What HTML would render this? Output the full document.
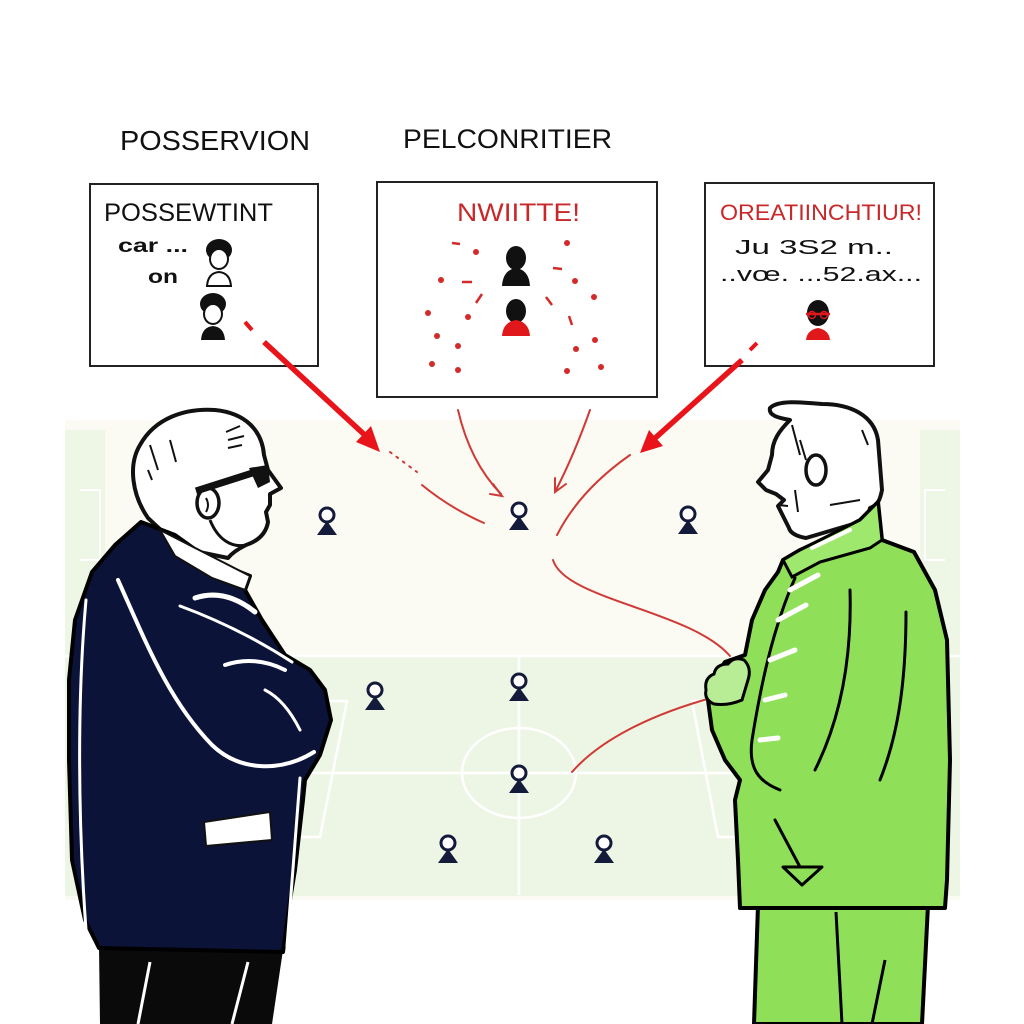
<!DOCTYPE html>
<html><head><meta charset="utf-8"><style>
html,body{margin:0;padding:0;background:#fff;}
svg{display:block;}
text{font-family:"Liberation Sans",sans-serif;}
</style></head><body>
<svg width="1024" height="1024" viewBox="0 0 1024 1024" xmlns="http://www.w3.org/2000/svg">
<rect width="1024" height="1024" fill="#ffffff"/>
<!-- field -->
<rect x="65" y="420" width="895" height="480" fill="#fbfaf3"/>
<rect x="65" y="430" width="40" height="225" fill="#eef6e6"/>
<rect x="920" y="430" width="40" height="225" fill="#eef6e6"/>
<path d="M80,490 L100,490 L100,560 L80,560" fill="none" stroke="#ffffff" stroke-width="2"/>
<path d="M945,490 L925,490 L925,560 L945,560" fill="none" stroke="#ffffff" stroke-width="2"/>
<rect x="65" y="655" width="895" height="241" fill="#edf6e4"/>
<g stroke="#ffffff" stroke-width="2.5" fill="none">
<line x1="65" y1="656" x2="960" y2="656"/>
<line x1="90" y1="773" x2="935" y2="773"/>
<line x1="519" y1="656" x2="519" y2="895"/>
<ellipse cx="519" cy="773" rx="57" ry="45"/>
<polyline points="300,701 347,701 320,837 290,837"/>
<polyline points="740,701 692,701 718,837 750,837"/>
</g>

<!-- titles -->
<text x="120" y="150" font-size="28" textLength="190" lengthAdjust="spacingAndGlyphs" fill="#111">POSSERVION</text>
<text x="403" y="148" font-size="27" textLength="209" lengthAdjust="spacingAndGlyphs" fill="#111">PELCONRITIER</text>

<!-- box 1 -->
<rect x="90" y="184" width="228" height="182" fill="#fff" stroke="#222" stroke-width="2"/>
<text x="104" y="221" font-size="25" textLength="169" lengthAdjust="spacingAndGlyphs" fill="#111">POSSEWTINT</text>
<text x="118" y="252" font-size="19" textLength="70" lengthAdjust="spacingAndGlyphs" fill="#111" font-weight="bold">car ...</text>
<text x="148" y="283" font-size="19" textLength="30" lengthAdjust="spacingAndGlyphs" fill="#111" font-weight="bold">on</text>
<g>
<path d="M207,286 Q208,273 219,272 Q230,273 231,286 Z" fill="#fff" stroke="#111" stroke-width="2"/>
<ellipse cx="219" cy="250" rx="13" ry="11" fill="#111"/>
<ellipse cx="219" cy="259" rx="9" ry="10" fill="#fff" stroke="#111" stroke-width="2"/>
<path d="M201,340 Q202,327 213,326 Q224,327 225,340 Z" fill="#111"/>
<ellipse cx="213" cy="304" rx="13" ry="11" fill="#111"/>
<ellipse cx="213" cy="314" rx="9" ry="10" fill="#fff" stroke="#111" stroke-width="2"/>
</g>

<!-- box 2 -->
<rect x="377" y="182" width="280" height="215" fill="#fff" stroke="#222" stroke-width="2"/>
<text x="457" y="221" font-size="25" textLength="123" lengthAdjust="spacingAndGlyphs" fill="#c8282a">NWIITTE!</text>
<g fill="#111">
<ellipse cx="516" cy="258" rx="10" ry="12"/>
<path d="M502,286 Q503,270 516,268 Q529,270 530,286 Z"/>
<ellipse cx="516" cy="311" rx="10" ry="12"/>
</g>
<path d="M502,336 Q503,322 516,320 Q529,322 530,336 Z" fill="#e0181c"/>
<g fill="#d42a2a">
<circle cx="476" cy="252" r="3"/><circle cx="441" cy="280" r="3"/><circle cx="428" cy="313" r="3"/>
<circle cx="468" cy="317" r="3"/><circle cx="437" cy="336" r="3"/><circle cx="458" cy="346" r="3"/>
<circle cx="432" cy="364" r="3"/><circle cx="458" cy="370" r="3"/><circle cx="567" cy="243" r="3"/>
<circle cx="575" cy="281" r="3"/><circle cx="594" cy="297" r="3"/><circle cx="595" cy="340" r="3"/>
<circle cx="576" cy="349" r="3"/><circle cx="567" cy="371" r="3"/><circle cx="601" cy="367" r="3"/>
</g>
<g stroke="#d42a2a" stroke-width="2.5" fill="none">
<line x1="452" y1="243" x2="460" y2="244"/>
<line x1="462" y1="282" x2="472" y2="282"/>
<line x1="482" y1="294" x2="476" y2="303"/>
<line x1="553" y1="268" x2="562" y2="269"/>
<line x1="546" y1="297" x2="552" y2="305"/>
<line x1="569" y1="316" x2="572" y2="325"/>
</g>

<!-- box 3 -->
<rect x="705" y="183" width="229" height="183" fill="#fff" stroke="#222" stroke-width="2"/>
<text x="720" y="220" font-size="22" textLength="202" lengthAdjust="spacingAndGlyphs" fill="#c8282a">OREATIINCHTIUR!</text>
<text x="735" y="254" font-size="20" textLength="158" lengthAdjust="spacingAndGlyphs" fill="#111">Ju 3S2 m..</text>
<text x="720" y="281" font-size="20" textLength="202" lengthAdjust="spacingAndGlyphs" fill="#111">..vœ. ...52.ax...</text>
<path d="M806,340 Q807,330 818,328 Q829,330 830,340 Z" fill="#e0181c"/>
<ellipse cx="818" cy="313" rx="11" ry="13" fill="#111"/>
<path d="M806,314 L830,314" stroke="#e0181c" stroke-width="2.5"/>
<circle cx="812" cy="315" r="3.5" fill="none" stroke="#e0181c" stroke-width="1.5"/>
<circle cx="824" cy="315" r="3.5" fill="none" stroke="#e0181c" stroke-width="1.5"/>

<!-- thick red arrows -->
<line x1="245" y1="322" x2="252" y2="330" stroke="#e8141a" stroke-width="4"/>
<line x1="264" y1="342" x2="368" y2="438" stroke="#e8141a" stroke-width="5.5"/>
<polygon points="380,452 356,442 371,426" fill="#e8141a"/>
<line x1="757" y1="343" x2="750" y2="350" stroke="#e8141a" stroke-width="4"/>
<line x1="742" y1="360" x2="653" y2="440" stroke="#e8141a" stroke-width="5.5"/>
<polygon points="640,453 649,430 663,446" fill="#e8141a"/>

<!-- thin red curves -->
<g stroke="#d03a36" stroke-width="2" fill="none" stroke-linecap="round">
<path d="M458,410 Q470,462 501,494"/>
<path d="M493,484 L502,496 L490,494"/>
<path d="M590,410 Q574,455 556,490"/>
<path d="M555,478 L555,492 L566,484"/>
<path d="M390,452 L417,472" stroke-dasharray="2,6"/>
<path d="M422,485 Q450,508 484,523"/>
<path d="M630,455 Q580,490 557,535"/>
<path d="M553,560 C565,600 690,610 730,656"/>
<path d="M711,698 C650,715 600,740 572,772"/>
</g>

<!-- players -->
<g id="pl">
</g>
<g fill="#141a3a" stroke="none">
<g transform="translate(327,515)"><polygon points="0,6 -10,20 10,20"/><circle cx="0" cy="0" r="7" fill="#fff" stroke="#141a3a" stroke-width="3"/></g>
<g transform="translate(519,510)"><polygon points="0,6 -10,20 10,20"/><circle cx="0" cy="0" r="7" fill="#fff" stroke="#141a3a" stroke-width="3"/></g>
<g transform="translate(688,514)"><polygon points="0,6 -10,20 10,20"/><circle cx="0" cy="0" r="7" fill="#fff" stroke="#141a3a" stroke-width="3"/></g>
<g transform="translate(375,690)"><polygon points="0,6 -10,20 10,20"/><circle cx="0" cy="0" r="7" fill="#fff" stroke="#141a3a" stroke-width="3"/></g>
<g transform="translate(519,681)"><polygon points="0,6 -10,20 10,20"/><circle cx="0" cy="0" r="7" fill="#fff" stroke="#141a3a" stroke-width="3"/></g>
<g transform="translate(519,773)"><polygon points="0,6 -10,20 10,20"/><circle cx="0" cy="0" r="7" fill="#fff" stroke="#141a3a" stroke-width="3"/></g>
<g transform="translate(448,843)"><polygon points="0,6 -10,20 10,20"/><circle cx="0" cy="0" r="7" fill="#fff" stroke="#141a3a" stroke-width="3"/></g>
<g transform="translate(604,843)"><polygon points="0,6 -10,20 10,20"/><circle cx="0" cy="0" r="7" fill="#fff" stroke="#141a3a" stroke-width="3"/></g>
</g>

<!-- LEFT MAN -->
<polygon points="99,946 283,950 272,1024 100,1024" fill="#0a0a0a"/>
<path d="M150,962 L138,1024 M248,962 L232,1024" stroke="#fff" stroke-width="3" fill="none"/>
<path d="M148,518 C132,495 128,465 140,445 C155,418 185,408 215,410 C245,413 262,430 264,455 L268,470 L281,488 L270,494 L270,505 L266,512 L268,522 C266,534 258,541 246,545 C238,549 232,553 228,558 L180,548 Z" fill="#fff" stroke="#111" stroke-width="4" stroke-linejoin="round"/>
<path d="M210,520 C218,540 232,548 246,545" fill="none" stroke="#111" stroke-width="3"/>
<ellipse cx="208" cy="503" rx="11" ry="15" fill="#fff" stroke="#111" stroke-width="3.5"/>
<path d="M206,498 Q210,505 206,512" stroke="#111" stroke-width="2" fill="none"/>
<path d="M196,491 L262,470" stroke="#111" stroke-width="7"/>
<path d="M249,468 L268,465 L270,482 L258,488 Z" fill="#111"/>
<g stroke="#111" stroke-width="2" fill="none">
<path d="M150,445 L158,470 M170,440 L176,462 M226,432 L240,426 M228,440 L244,436 M228,448 L242,445 M148,470 L152,480"/>
</g>
<path d="M141,522 L175,535 L210,560 L250,576 L245,590 L262,620 L285,655 L310,670 L325,690 L331,720 L320,755 L305,780 L303,800 L295,870 L290,900 L283,952 L99,948 L85,920 L72,860 L69,760 L69,680 L75,620 L92,572 L115,545 Z" fill="#0c1338" stroke="#000" stroke-width="4" stroke-linejoin="round"/>
<path d="M160,530 L250,576 L245,590 L212,578 L175,556 Z" fill="#fff" stroke="#111" stroke-width="2"/>
<g stroke="#fff" fill="none" stroke-linecap="round">
<path d="M86,600 C77,700 78,820 86,930" stroke-width="3"/>
<path d="M118,580 C145,640 168,700 212,745 C240,772 282,772 314,752" stroke-width="4"/>
<path d="M180,606 C218,620 258,640 292,662" stroke-width="3"/>
<path d="M195,598 Q225,588 255,612" stroke-width="5"/>
<path d="M225,665 Q255,655 285,670" stroke-width="4"/>
<path d="M300,778 L287,946" stroke-width="3"/>
<path d="M265,690 Q285,700 300,730" stroke-width="3"/>
</g>
<polygon points="204,822 270,812 272,840 206,846" fill="#fff" stroke="#111" stroke-width="2"/>

<!-- RIGHT MAN -->
<polygon points="758,905 928,905 922,1024 754,1024" fill="#8fe058" stroke="#000" stroke-width="4" stroke-linejoin="round"/>
<path d="M836,912 L842,1024 M885,960 L872,1024" stroke="#000" stroke-width="3" fill="none"/>
<path d="M806,538 C795,536 790,532 789,528 L782,514 L778,506 L784,500 L776,494 L766,490 L758,482 L768,470 L772,455 C772,440 780,430 790,420 C780,418 768,416 770,408 C778,400 800,402 822,404 C850,404 874,415 878,440 L882,490 C880,500 878,505 870,508 L868,515 L860,522 Z" fill="#fff" stroke="#111" stroke-width="4" stroke-linejoin="round"/>
<ellipse cx="816" cy="470" rx="10" ry="15" fill="#fff" stroke="#111" stroke-width="3.5"/>
<g stroke="#111" stroke-width="2" fill="none">
<path d="M792,425 L800,455 M800,440 L806,460 M862,430 L868,445 M778,505 L788,506 M795,490 L798,512 M830,505 L860,500"/>
</g>
<path d="M878,502 L882,540 L914,552 L935,590 L947,640 L950,760 L947,880 L945,908 L740,908 L738,860 L735,800 L740,780 L725,760 L712,730 L708,700 L712,680 L725,662 L745,655 L752,620 L765,590 L778,572 L783,560 L800,550 L830,536 L860,520 Z" fill="#8fe058" stroke="#000" stroke-width="4" stroke-linejoin="round"/>
<path d="M783,560 L800,550 L860,520 L878,502 L882,540 L870,548 L820,562 L792,577 Z" fill="#9fe86e" stroke="#000" stroke-width="3"/>
<path d="M706,690 Q704,678 714,674 Q716,664 728,664 Q734,656 744,660 Q752,668 748,680 L742,700 Q728,706 714,704 Q704,700 706,690 Z" fill="#b8ec95" stroke="#000" stroke-width="3"/>
<g stroke="#000" fill="none" stroke-width="3" stroke-linecap="round">
<path d="M795,578 C772,630 760,690 752,740 C748,770 760,782 780,790"/>
<path d="M850,590 C852,660 840,720 815,770"/>
<path d="M906,612 C906,690 896,740 880,780"/>
<path d="M775,820 L800,867"/>
</g>
<polygon points="783,867 822,867 802,885" fill="#8fe058" stroke="#000" stroke-width="3" stroke-linejoin="round"/>
<g stroke="#fff" fill="none" stroke-width="5" stroke-linecap="round">
<path d="M790,590 L818,575"/>
<path d="M778,620 L806,605"/>
<path d="M770,660 L795,650"/>
<path d="M765,700 L785,695"/>
<path d="M760,740 L778,738"/>
<path d="M812,548 L850,530" stroke-width="4"/>
</g>
</svg>
</body></html>
